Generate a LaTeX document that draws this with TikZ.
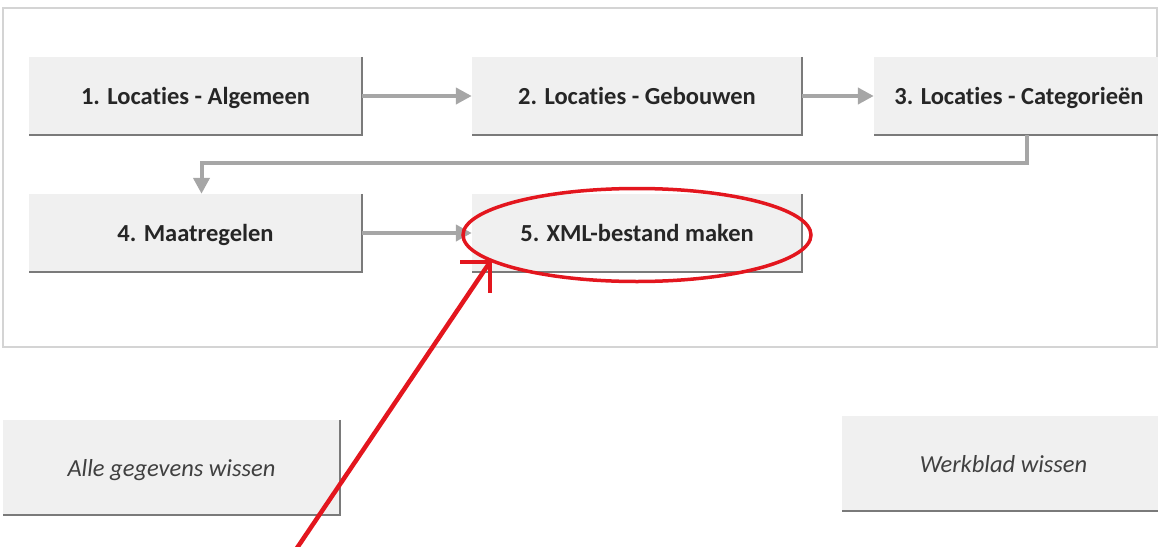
\documentclass[tikz,border=0pt]{standalone}
\usepackage{fontspec}
\setmainfont{Carlito}[Ligatures=NoCommon]
\usetikzlibrary{shapes.geometric,arrows.meta}
\definecolor{boxfill}{HTML}{F0F0F0}
\definecolor{edgegray}{HTML}{7A7A7A}
\definecolor{flowgray}{HTML}{A6A6A6}
\definecolor{framegray}{HTML}{D4D4D4}
\definecolor{markred}{HTML}{E3161E}
\begin{document}
\begin{tikzpicture}[x=1pt,y=-1pt]
	\useasboundingbox (0,0) rectangle (1158,546);
	\draw[framegray, line width=2pt] (3,8) rectangle (1157,347);

	\begin{scope}[every node/.style={fill=boxfill,minimum height=78,inner sep=0pt,text depth=0pt,text=black!85,font=\fontsize{24.5}{28}\selectfont\bfseries}]
		\node[minimum width=333] (A) at (195.5,96) {1. Locaties - Algemeen};
		\node[minimum width=330] (B) at (637,96) {2. Locaties - Gebouwen};
		\node[minimum width=290] (C) at (1019,96) {3. Locaties - Categorieën};
		\node[minimum width=333] (D) at (195.5,233) {4. Maatregelen};
		\node[minimum width=330] (E) at (637,233) {5. XML-bestand maken};
	\end{scope}

	\begin{scope}[every node/.style={fill=boxfill,minimum height=95,inner sep=0pt,text depth=0pt,text=black!75,font=\fontsize{24.5}{28}\selectfont\itshape}]
		\node[minimum width=337] (F) at (171.5,467.5) {Alle gegevens wissen};
		\node[minimum width=323] (G) at (1003.5,463.5) {Werkblad wissen};
	\end{scope}

	\foreach \n in {A,B,C,D,E,F,G}
		\draw[edgegray, line width=1.5pt] (\n.north east) -- (\n.south east) -- (\n.south west);

	\begin{scope}[every edge/.style={draw=flowgray,line width=4pt}]
		\path [-{Triangle[length=16pt,width=16pt]}] (A) edge (B);
		\path [-{Triangle[length=16pt,width=16pt]}] (B) edge (C);
		\path [-{Triangle[length=16pt,width=16pt]}] (D) edge (E);
	\end{scope}
	\draw[flowgray, line width=4pt, -{Triangle[length=16pt,width=16pt]}] ([xshift=8]C.south) -- ++(0,28) -| ([xshift=6]D.north);

	% red marking
	\node[ellipse, draw=markred, line width=3.5pt, minimum width=348, minimum height=93] (R) at (637,235) {};
	\coordinate (T) at (490,262);
	\coordinate (S) at (297,548);
	\draw[markred, line width=4.5pt] (S) -- (T);
	\draw[markred, line width=4.5pt] ([xshift=-30]T) -- (T) -- ++(0,31);
\end{tikzpicture}
\end{document}
